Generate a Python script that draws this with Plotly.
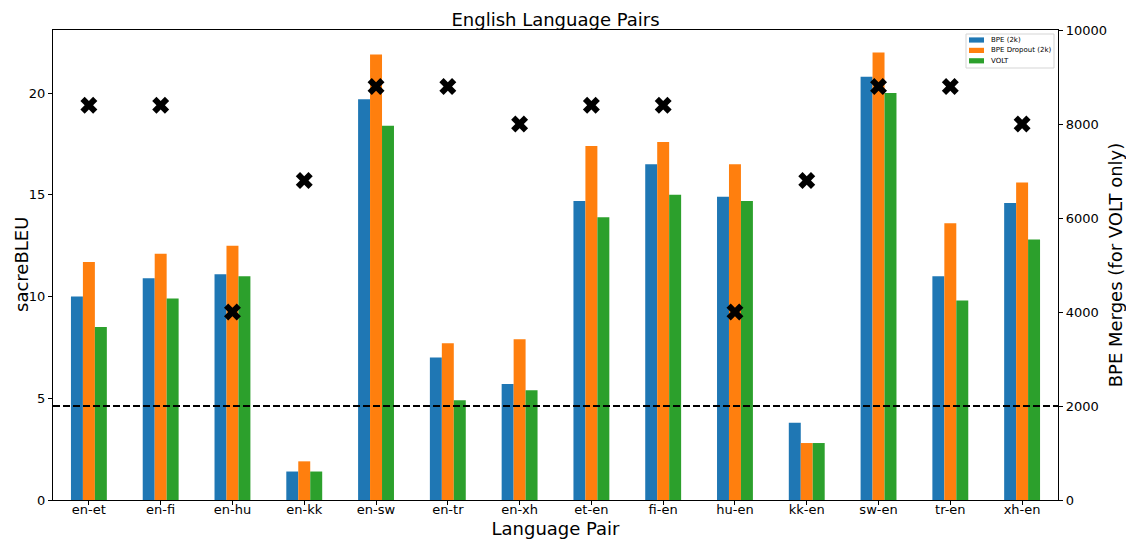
import plotly.graph_objects as go

pairs = ["en-et", "en-fi", "en-hu", "en-kk", "en-sw", "en-tr", "en-xh",
         "et-en", "fi-en", "hu-en", "kk-en", "sw-en", "tr-en", "xh-en"]
bpe_2k = [10.0, 10.9, 11.1, 1.4, 19.7, 7.0, 5.7, 14.7, 16.5, 14.9, 3.8, 20.8, 11.0, 14.6]
bpe_dropout_2k = [11.7, 12.1, 12.5, 1.9, 21.9, 7.7, 7.9, 17.4, 17.6, 16.5, 2.8, 22.0, 13.6, 15.6]
volt = [8.5, 9.9, 11.0, 1.4, 18.4, 4.9, 5.4, 13.9, 15.0, 14.7, 2.8, 20.0, 9.8, 12.8]
volt_merges = [8400, 8400, 4000, 6800, 8800, 8800, 8000, 8400, 8400, 4000, 6800, 8800, 8800, 8000]
baseline_merges = 2000
series_names = ["BPE (2k)", "BPE Dropout (2k)", "VOLT"]
series_colors = ["#1f77b4", "#ff7f0e", "#2ca02c"]
left_ticks = [0, 5, 10, 15, 20]
right_ticks = [0, 2000, 4000, 6000, 8000, 10000]

FONT = "DejaVu Sans"
W, H = 1126, 541
L, R, T, B = 53, 68, 30, 41
PW, PH = W - L - R, H - T - B


def px(xp):
    return (xp - L) / PW


def py(yp):
    return (H - B - yp) / PH


fig = go.Figure()
for name, vals, col in zip(series_names, [bpe_2k, bpe_dropout_2k, volt], series_colors):
    fig.add_trace(go.Bar(x=pairs, y=vals, name=name, marker_color=col, marker_line_width=0,
                         showlegend=False))
fig.add_trace(go.Scatter(x=pairs, y=volt_merges, mode="markers", yaxis="y2", showlegend=False,
                         marker=dict(symbol="x", size=15, color="black", line=dict(width=0))))

fig.add_shape(type="line", xref="paper", x0=0, x1=1, yref="y2", y0=baseline_merges, y1=baseline_merges,
              line=dict(color="black", width=2, dash="7px,3px"))

# legend drawn manually (compact, matplotlib-like)
fig.add_shape(type="rect", xref="paper", yref="paper", x0=px(966), x1=px(1054), y0=py(68), y1=py(34),
              line=dict(color="#d5d5d5", width=1), fillcolor="rgba(255,255,255,0.85)", layer="above")
row_y = [40, 50.4, 60.8]
for name, col, ry in zip(series_names, series_colors, row_y):
    fig.add_shape(type="rect", xref="paper", yref="paper", x0=px(969), x1=px(984),
                  y0=py(ry + 2.6), y1=py(ry - 2.6), line=dict(width=0), fillcolor=col, layer="above")
    fig.add_annotation(x=px(989), y=py(ry), xref="paper", yref="paper", text=name, showarrow=False,
                       xanchor="left", yanchor="middle", font=dict(size=7, family=FONT, color="black"))

# left axis title
fig.add_annotation(x=px(21), y=py(265), xref="paper", yref="paper", text="sacreBLEU", showarrow=False,
                   textangle=-90, xanchor="center", yanchor="middle",
                   font=dict(size=18, family=FONT, color="black"))

fig.update_layout(
    width=W, height=H,
    margin=dict(l=L, r=R, t=T, b=B),
    paper_bgcolor="white", plot_bgcolor="white",
    font=dict(family=FONT, color="black", size=13),
    barmode="group", bargap=0.5, bargroupgap=0,
    showlegend=False,
    title=dict(text="English Language Pairs", x=0.5, xref="paper", xanchor="center", y=0.963,
               yanchor="middle", font=dict(size=18, family=FONT)),
    xaxis=dict(range=[-0.5, 13.5], showline=True, linecolor="black", linewidth=1.2, mirror=True,
               ticks="outside", ticklen=4, tickcolor="black", showgrid=False, automargin=False,
               tickfont=dict(size=13), ticklabelstandoff=-7,
               title=dict(text="Language Pair", font=dict(size=18), standoff=6)),
    yaxis=dict(range=[0, 23.1], tickvals=left_ticks, showline=True, linecolor="black",
               linewidth=1.2, ticks="outside", ticklen=4, tickcolor="black", showgrid=False,
               zeroline=False, tickfont=dict(size=13), automargin=False),
    yaxis2=dict(range=[0, 10000], tickvals=right_ticks, ticktext=[str(v) for v in right_ticks],
                overlaying="y", side="right", showline=True, linecolor="black", linewidth=1.2,
                ticks="outside", ticklen=4, tickcolor="black", showgrid=False, zeroline=False,
                tickfont=dict(size=13), automargin=False,
                title=dict(text="BPE Merges (for VOLT only)", font=dict(size=18), standoff=8)),
)

fig.write_html("out.html")
